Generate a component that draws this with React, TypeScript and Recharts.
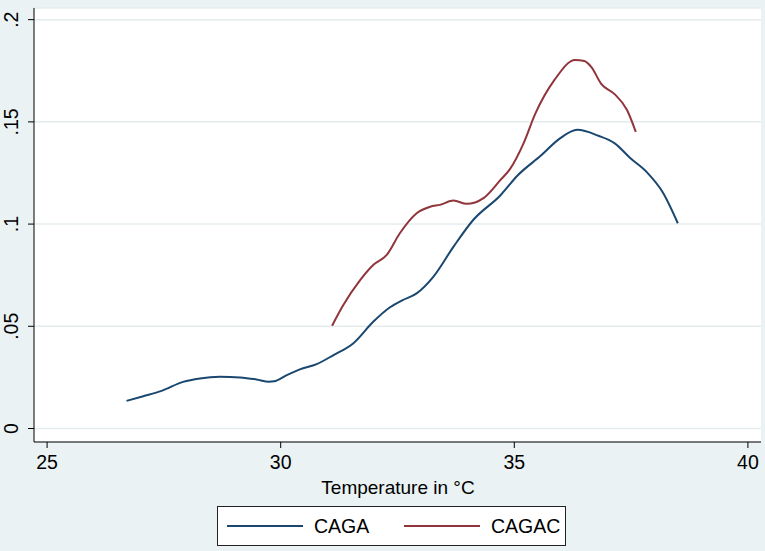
import React from 'react';
import { LineChart, Line, XAxis, YAxis, CartesianGrid } from 'recharts';

// Temperature (°C) / values
const cagaTemp = [26.7, 27.06, 27.45, 27.91, 28.27, 28.7, 29.13, 29.48, 29.75, 29.86, 30.13, 30.41, 30.77, 31.13, 31.55, 31.98, 32.34, 32.6, 32.91, 33.27, 33.7, 34.12, 34.7, 35.08, 35.57, 35.97, 36.35, 36.8, 37.15, 37.48, 37.84, 38.17, 38.5];
const cagaValue = [0.0135, 0.0158, 0.0184, 0.0228, 0.0245, 0.0253, 0.025, 0.024, 0.0229, 0.0231, 0.0261, 0.0289, 0.0315, 0.0359, 0.0416, 0.0522, 0.0593, 0.0627, 0.0661, 0.0743, 0.089, 0.102, 0.114, 0.124, 0.1335, 0.1418, 0.1461, 0.1432, 0.1395, 0.1323, 0.1253, 0.1158, 0.1004];

const cagacTemp = [31.1, 31.34, 31.7, 31.98, 32.27, 32.55, 32.91, 33.2, 33.41, 33.7, 33.98, 34.34, 34.7, 34.91, 35.2, 35.45, 35.86, 36.3, 36.5, 36.65, 36.86, 37.14, 37.41, 37.6];
const cagacValue = [0.0503, 0.0604, 0.0726, 0.08, 0.0849, 0.0955, 0.1053, 0.1085, 0.1094, 0.1115, 0.1099, 0.1127, 0.1215, 0.127, 0.1396, 0.154, 0.1705, 0.1803, 0.1798, 0.1768, 0.1686, 0.1637, 0.1559, 0.1451];

const xTicks = [25, 30, 35, 40];
const xTickLabels = ['25', '30', '35', '40'];
const yTicks = [0, 0.05, 0.1, 0.15, 0.2];
const yTickLabels = ['0', '.05', '.1', '.15', '.2'];

const seriesNames = ['CAGA', 'CAGAC'];
const seriesColors = ['#1a476f', '#90353b'];

const cagaData = cagaTemp.map((t, i) => ({ temp: t, value: cagaValue[i] }));
const cagacData = cagacTemp.map((t, i) => ({ temp: t, value: cagacValue[i] }));

const FONT = '"Liberation Sans", Arial, sans-serif';

const XTick = (props: any) => {
  const { x, y, payload } = props;
  const i = xTicks.indexOf(payload.value);
  return (
    <text x={x} y={y + 19} textAnchor="middle" fontSize={19.5} fontFamily={FONT} fill="#000">
      {xTickLabels[i]}
    </text>
  );
};

const YTick = (props: any) => {
  const { x, y, payload } = props;
  const i = yTicks.indexOf(payload.value);
  const bx = x - 8;
  return (
    <text x={bx} y={y} transform={`rotate(-90, ${bx}, ${y})`} textAnchor="middle" fontSize={19.5} fontFamily={FONT} fill="#000">
      {yTickLabels[i]}
    </text>
  );
};

export default function App() {
  return (
    <div style={{ position: 'absolute', left: 0, top: 0, width: 765, height: 551, background: '#eaf2f3', fontFamily: FONT }}>
      <LineChart width={765} height={551} margin={{ top: 8, right: 4, left: 0, bottom: 79 }}>
        <CartesianGrid vertical={false} stroke="#e4ecee" strokeWidth={1.5} fill="#ffffff" />
        <XAxis
          type="number"
          dataKey="temp"
          domain={[24.72, 40.28]}
          ticks={xTicks}
          allowDataOverflow
          height={30}
          tickSize={6}
          stroke="#000"
          tick={<XTick />}
        />
        <YAxis
          type="number"
          dataKey="value"
          domain={[-0.0066, 0.2057]}
          ticks={yTicks}
          allowDataOverflow
          width={34}
          tickSize={6}
          stroke="#000"
          tick={<YTick />}
        />
        <Line data={cagaData} dataKey="value" type="monotone" stroke={seriesColors[0]} strokeWidth={2} dot={false} isAnimationActive={false} name={seriesNames[0]} />
        <Line data={cagacData} dataKey="value" type="monotone" stroke={seriesColors[1]} strokeWidth={2} dot={false} isAnimationActive={false} name={seriesNames[1]} />
      </LineChart>
      <div style={{ position: 'absolute', left: 298, top: 478, width: 200, textAlign: 'center', fontSize: 19, lineHeight: '19px', color: '#000' }}>
        Temperature in °C
      </div>
      <div style={{ position: 'absolute', left: 217, top: 506, width: 347, height: 38, border: '1px solid #222', background: '#fff' }}>
        {seriesNames.map((n, i) => (
          <div key={n} style={{ position: 'absolute', left: i === 0 ? 9 : 186, top: 0, height: 38, display: 'flex', alignItems: 'center' }}>
            <div style={{ width: 76, height: 2, background: seriesColors[i] }} />
            <span style={{ marginLeft: 11, fontSize: 19.5, lineHeight: '19px', color: '#000' }}>{n}</span>
          </div>
        ))}
      </div>
    </div>
  );
}
